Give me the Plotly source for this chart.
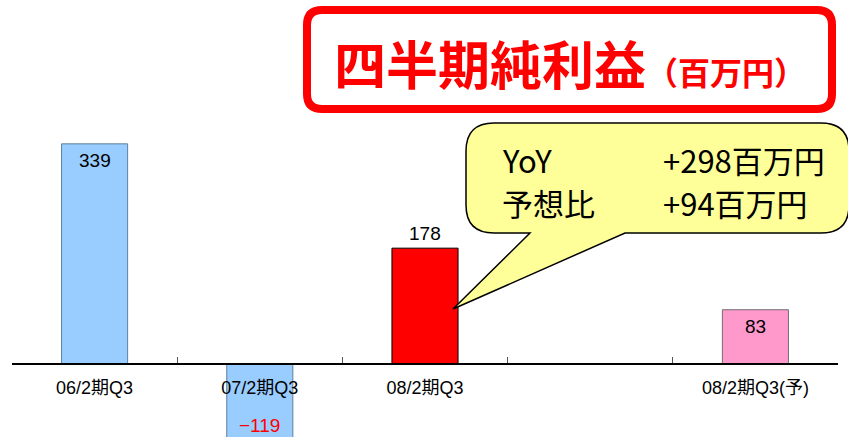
import plotly.graph_objects as go

W, H = 848, 437

# ---- data ----
categories = ["06/2期Q3", "07/2期Q3", "08/2期Q3", " ", "08/2期Q3(予)"]
values = [339, -119, 178, None, 83]
value_labels = ["339", "−119", "178", "", "83"]
label_place = ["in", "in", "out", "", "in"]
label_colors = ["#000000", "#FF0000", "#000000", "#000000", "#000000"]
bar_colors = ["#99CCFF", "#99CCFF", "#FF0000", "#FFFFFF", "#FF99CC"]
bar_lines = ["#5F7F9F", "#5F7F9F", "#000000", "#FFFFFF", "#707070"]

title_main = "四半期純利益"
title_unit = "（百万円）"
bubble_rows = [("YoY", "+298百万円"), ("予想比", "+94百万円")]

# ---- scale ----
zero_px = 363.5
ppu = 0.648
ymax = zero_px / ppu
ymin = -(H - zero_px) / ppu

def X(p):
    return p / W

def Y(p):
    return 1 - p / H

fig = go.Figure()
fig.add_trace(go.Bar(
    x=categories, y=values, width=0.4,
    marker=dict(color=bar_colors, line=dict(color=bar_lines, width=1)),
    hoverinfo="skip", showlegend=False,
))

annotations = []
for c, v, t, place, col in zip(categories, values, value_labels, label_place, label_colors):
    if v is None:
        continue
    if place == "in":
        if v > 0:
            ya, shift = v, -17
        else:
            ya, shift = v + 15 / ppu, 0
    else:
        ya, shift = v, 15
    annotations.append(dict(
        x=c, y=ya, xref="x", yref="y", text=t, showarrow=False, yshift=shift,
        font=dict(size=19, color=col, family="Liberation Sans, Arial, sans-serif"),
    ))

# title
annotations.append(dict(
    x=X(569.5), y=Y(63), xref="paper", yref="paper", xanchor="center", yanchor="middle",
    text="<b>" + title_main + "<span style='font-size:32px'>" + title_unit + "</span></b>",
    showarrow=False,
    font=dict(size=52, color="#FF0000", family="Noto Sans CJK JP"),
))

# bubble text
for (a, b), yc in zip(bubble_rows, [159, 202]):
    annotations.append(dict(x=X(500), y=Y(yc), xref="paper", yref="paper", xanchor="left",
                            yanchor="middle", text=a, showarrow=False,
                            font=dict(size=31, color="#000000", family="Noto Sans CJK JP")))
    annotations.append(dict(x=X(661), y=Y(yc), xref="paper", yref="paper", xanchor="left",
                            yanchor="middle", text=b, showarrow=False,
                            font=dict(size=31, color="#000000", family="Noto Sans CJK JP")))

def P(x, y):
    return f"{X(x):.5f},{Y(y):.5f}"

def rrect(x0, y0, x1, y1, r):
    return (f"M {P(x0 + r, y0)} L {P(x1 - r, y0)} Q {P(x1, y0)} {P(x1, y0 + r)} "
            f"L {P(x1, y1 - r)} Q {P(x1, y1)} {P(x1 - r, y1)} L {P(x0 + r, y1)} "
            f"Q {P(x0, y1)} {P(x0, y1 - r)} L {P(x0, y0 + r)} Q {P(x0, y0)} {P(x0 + r, y0)} Z")

# bubble
bx0, by0, bx1, by1, br = 466, 123, 849, 233, 28
bubble = (f"M {P(bx0 + br, by0)} L {P(bx1 - br, by0)} Q {P(bx1, by0)} {P(bx1, by0 + br)} "
          f"L {P(bx1, by1 - br)} Q {P(bx1, by1)} {P(bx1 - br, by1)} "
          f"L {P(625, by1)} L {P(453, 309)} L {P(530, by1)} "
          f"L {P(bx0 + br, by1)} Q {P(bx0, by1)} {P(bx0, by1 - br)} "
          f"L {P(bx0, by0 + br)} Q {P(bx0, by0)} {P(bx0 + br, by0)} Z")

shapes = [
    dict(type="path", path=rrect(307, 10, 832, 109, 15), xref="paper", yref="paper",
         line=dict(color="#FF0000", width=8), fillcolor="rgba(0,0,0,0)", layer="above"),
    dict(type="path", path=bubble, xref="paper", yref="paper",
         line=dict(color="#000000", width=1.5), fillcolor="#FFFF99", layer="above"),
]

fig.update_layout(
    width=W, height=H, autosize=False,
    margin=dict(l=0, r=0, t=0, b=0),
    paper_bgcolor="white", plot_bgcolor="white",
    xaxis=dict(
        type="category", categoryorder="array", categoryarray=categories,
        range=[-0.5, 4.5], domain=[12 / W, 838 / W],
        anchor="free", position=(H - zero_px) / H,
        showline=True, linecolor="#000000", linewidth=1.5,
        ticks="inside", ticklen=6, tickcolor="#555555", tickwidth=1, tickson="boundaries",
        ticklabelstandoff=8,
        showgrid=False, zeroline=False,
        tickfont=dict(size=18, color="#000000", family="Liberation Sans, Noto Sans CJK JP"),
    ),
    yaxis=dict(range=[ymin, ymax], visible=False, showgrid=False, zeroline=False),
    annotations=annotations, shapes=shapes,
)

fig.write_html("out.html", config={"displayModeBar": False},
               post_script="document.body.style.margin='0';")
